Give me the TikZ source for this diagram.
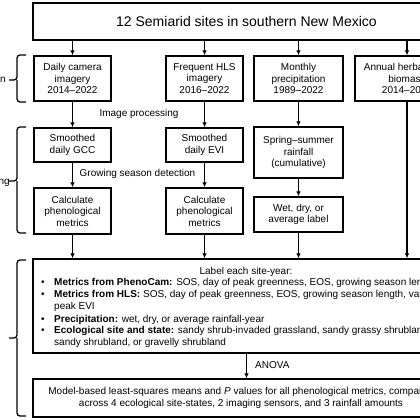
\documentclass[tikz,border=0pt]{standalone}
\usepackage{fontspec}
\setmainfont{Liberation Sans}
\usetikzlibrary{arrows.meta}
\begin{document}
\begin{tikzpicture}[x=1pt,y=-1pt,
  box/.style={draw, line width=1.3pt, align=center, font=\fontsize{10}{11.5}\selectfont, inner sep=0pt},
  arr/.style={-{Latex[length=5pt,width=4.5pt]}, line width=1.1pt},
  lbl/.style={font=\fontsize{10}{11.5}\selectfont, inner sep=0pt},
  brace/.style={line width=1.3pt, rounded corners=3pt},
  txt/.style={font=\fontsize{10}{12}\selectfont, inner sep=0pt, anchor=west, text height=7.2pt, text depth=2pt}]
\useasboundingbox (0,0) rectangle (420,420);
\clip (0,0) rectangle (420,420);
\fill[white] (0,0) rectangle (420,420);
% top
\node[box, line width=1.6pt, minimum width=427pt, minimum height=37pt, font=\fontsize{14}{16}\selectfont] (top) at (246.5,21.5) {12 Semiarid sites in southern New Mexico};
% row 1
\node[box, minimum width=77pt, minimum height=45pt] (A1) at (72.5,78.5) {Daily camera\\imagery\\2014–2022};
\node[box, minimum width=77pt, minimum height=45pt] (B1) at (204.5,78.5) {Frequent HLS\\imagery\\2016–2022};
\node[box, minimum width=89pt, minimum height=45pt] (C1) at (298.5,78.5) {Monthly\\precipitation\\1989–2022};
\node[box, minimum width=104pt, minimum height=45pt] (D1) at (407,78.5) {Annual herbaceous\\biomass\\2014–2022};
% row 2
\node[box, minimum width=77pt, minimum height=34pt] (A2) at (72.5,145) {Smoothed\\daily GCC};
\node[box, minimum width=77pt, minimum height=34pt] (B2) at (204.5,145) {Smoothed\\daily EVI};
\node[box, minimum width=89pt, minimum height=51pt] (C2) at (298.5,152.5) {Spring–summer\\rainfall\\(cumulative)};
% row 3
\node[box, minimum width=77pt, minimum height=46pt] (A3) at (72.5,211) {Calculate\\phenological\\metrics};
\node[box, minimum width=77pt, minimum height=46pt] (B3) at (204.5,211) {Calculate\\phenological\\metrics};
\node[box, minimum width=89pt, minimum height=35pt] (C3) at (298.5,214.5) {Wet, dry, or\\average label};
% big box
\node[box, minimum width=427pt, minimum height=94pt] (big) at (246.5,306) {};
\node[box, minimum width=427pt, minimum height=38pt] (res) at (246.5,398) {};
% labels
\node[lbl] (ip) at (139,114) {Image processing};
\node[lbl] (gs) at (137.5,174) {Growing season detection};
\node[lbl, anchor=west] (anova) at (255,365) {ANOVA};
% arrows
\foreach \n in {A1,B1,C1,D1} \draw[arr] (top.south -| \n.north) -- (\n.north);
\draw[arr] (A1) -- (A2);
\draw[arr] (A2) -- (A3);
\draw[arr] (B1) -- (B2);
\draw[arr] (B2) -- (B3);
\draw[arr] (C1) -- (C2);
\draw[arr] (C2) -- (C3);
\foreach \n in {A3,B3,C3,D1} \draw[arr] (\n.south) -- (\n.south |- big.north);
\draw[arr] (big.south) -- (res.north);
% big box text
\node[lbl] (lab) at (246,272) {Label each site-year:};
\node[txt] (u1) at (41,283) {•};
\node[txt] (t1) at (54,283) {\textbf{Metrics from PhenoCam:} SOS, day of peak greenness, EOS, growing season length};
\node[txt] (u2) at (41,295) {•};
\node[txt] (t2) at (54,295) {\textbf{Metrics from HLS:} SOS, day of peak greenness, EOS, growing season length, value};
\node[txt] (t3) at (54,307) {peak EVI};
\node[txt] (u4) at (41,320) {•};
\node[txt] (t4) at (54,320) {\textbf{Precipitation:} wet, dry, or average rainfall-year};
\node[txt] (u5) at (41,331) {•};
\node[txt] (t5) at (54,331) {\textbf{Ecological site and state:} sandy shrub-invaded grassland, sandy grassy shrubland};
\node[txt] (t6) at (54,343) {sandy shrubland, or gravelly shrubland};
\node[lbl, align=center] (rt) at (241,398) {Model-based least-squares means and \textit{P} values for all phenological metrics, compared\\across 4 ecological site-states, 2 imaging sensors, and 3 rainfall amounts};
% braces
\draw[brace] (26,55) -- (17,55) -- (17,80) -- (9,80) (17,80) -- (17,102) -- (26,102);
\draw[brace] (26,127) -- (17,127) -- (17,181) -- (9,181) (17,181) -- (17,233) -- (26,233);
\draw[brace] (26,260) -- (17,260) -- (17,338) -- (9,338) (17,338) -- (17,416) -- (26,416);
\node[lbl, anchor=east] (sl1) at (6,80) {n};
\node[lbl, anchor=east] (sl2) at (10,183) {ng};
\end{tikzpicture}
\end{document}
